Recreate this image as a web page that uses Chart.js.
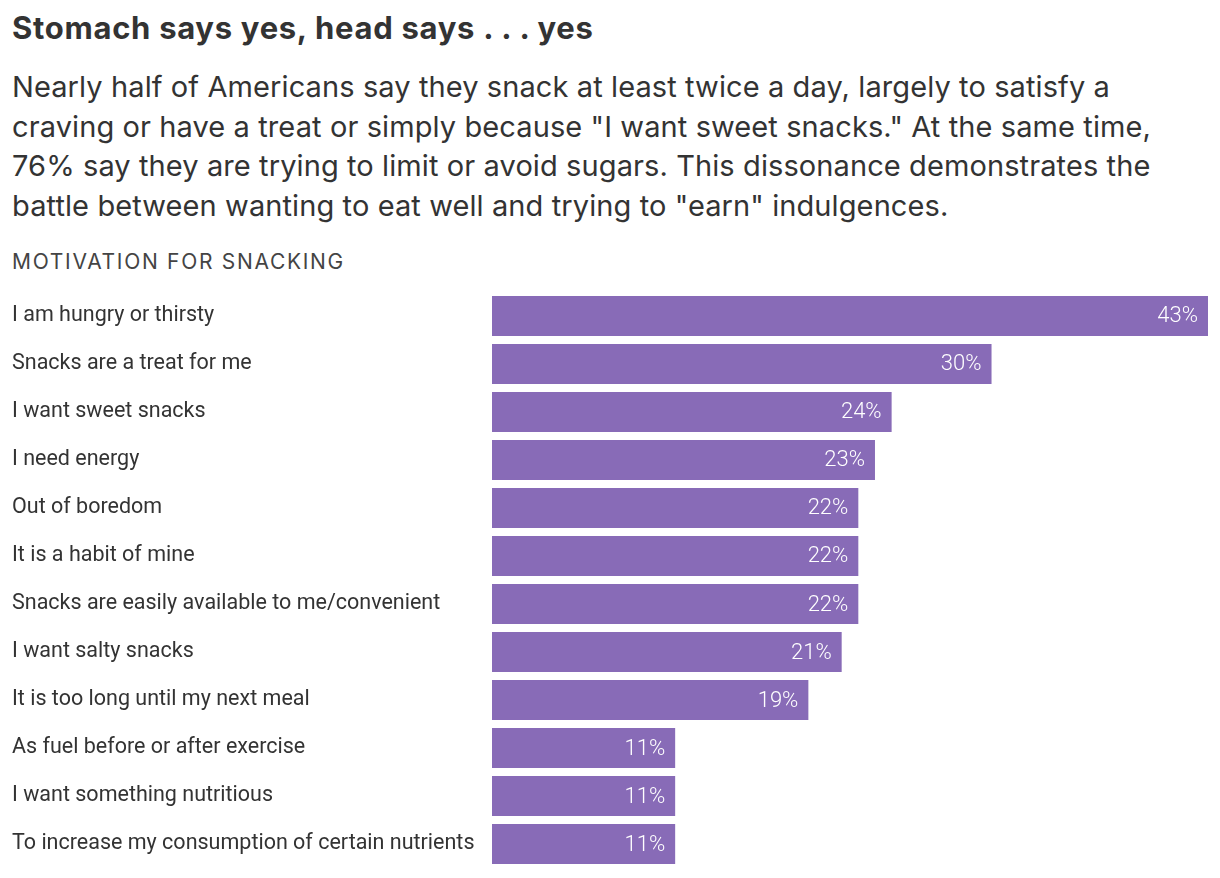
<!DOCTYPE html>
<html>
<head>
<meta charset="utf-8">
<script src="https://cdn.jsdelivr.net/npm/chart.js@4"></script>
<style>
  html, body { margin:0; padding:0; background:#fff; }
  body { width:1220px; height:878px; position:relative; overflow:hidden; font-family:"Inter", sans-serif; color:#333; }
  #title { position:absolute; left:12px; top:9px; font-size:31px; font-weight:700; letter-spacing:0.7px; color:#333; white-space:nowrap; }
  #subtitle { position:absolute; left:12px; top:67px; width:1208px; font-size:29px; line-height:39.7px; letter-spacing:0.1px; color:#333; white-space:nowrap; }
  #label { position:absolute; left:12px; top:249px; font-size:21px; letter-spacing:1.7px; color:#444; }
  #wrap { position:absolute; left:0; top:279px; width:1220px; height:602px; }
</style>
</head>
<body>
<div id="title">Stomach says yes, head says . . . yes</div>
<div id="subtitle">Nearly half of Americans say they snack at least twice a day, largely to satisfy a<br>craving or have a treat or simply because "I want sweet snacks." At the same time,<br>76% say they are trying to limit or avoid sugars. This dissonance demonstrates the<br>battle between wanting to eat well and trying to "earn" indulgences.</div>
<div id="label">MOTIVATION FOR SNACKING</div>
<div id="wrap"><canvas id="c"></canvas></div>
<script>
// -------- 資料 --------
const reasons = [
  "I am hungry or thirsty",
  "Snacks are a treat for me",
  "I want sweet snacks",
  "I need energy",
  "Out of boredom",
  "It is a habit of mine",
  "Snacks are easily available to me/convenient",
  "I want salty snacks",
  "It is too long until my next meal",
  "As fuel before or after exercise",
  "I want something nutritious",
  "To increase my consumption of certain nutrients"
];
const shares = [43, 30, 24, 23, 22, 22, 22, 21, 19, 11, 11, 11];

const barColor = '#886bb7';

// -------- 條末數值 --------
const valueLabels = {
  id:'valueLabels',
  afterDatasetsDraw(chart){
    const ctx = chart.ctx;
    const meta = chart.getDatasetMeta(0);
    ctx.save();
    ctx.fillStyle = '#fff';
    ctx.font = '300 22px Roboto';
    ctx.textAlign = 'right';
    ctx.textBaseline = 'middle';
    meta.data.forEach((bar, i)=>{
      ctx.fillText(shares[i] + '%', bar.x - 10, bar.y + 1);
    });
    ctx.restore();
  }
};

new Chart(document.getElementById('c'), {
  type:'bar',
  data:{
    labels:reasons,
    datasets:[{
      data:shares,
      backgroundColor:barColor,
      borderWidth:0,
      barPercentage:40/48,
      categoryPercentage:1
    }]
  },
  options:{
    indexAxis:'y',
    responsive:true,
    maintainAspectRatio:false,
    animation:false,
    layout:{padding:{left:12, right:12, top:0, bottom:0}},
    plugins:{legend:{display:false}, tooltip:{enabled:false}},
    scales:{
      x:{display:false, min:0, max:43},
      y:{
        grid:{display:false},
        border:{display:false},
        ticks:{
          crossAlign:'far',
          color:'#333',
          font:{family:'Roboto', size:21.5, weight:'normal'},
          padding:0
        },
        afterFit(scale){ scale.width = 480; }
      }
    }
  },
  plugins:[valueLabels]
});
</script>
</body>
</html>
